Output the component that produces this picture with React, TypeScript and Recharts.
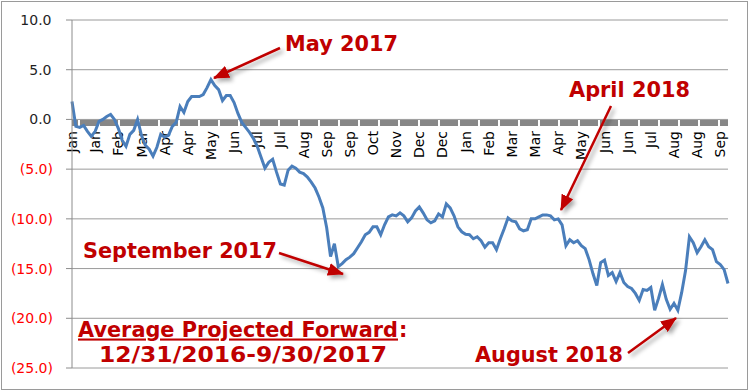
// Serie proyectada (promedio) con eje de meses cruzando en cero y anotaciones en rojo.

import { CartesianGrid, Line, LineChart, XAxis, YAxis } from "recharts";

const monthLabels = [
  "Jan", "Jan", "Feb", "Mar", "Apr", "Apr", "May", "Jun", "Jul", "Jul",
  "Aug", "Sep", "Sep", "Oct", "Nov", "Dec", "Dec", "Jan", "Feb", "Mar",
  "Mar", "Apr", "May", "Jun", "Jun", "Jul", "Aug", "Aug", "Sep",
];
const labelTicks = [
  0, 6, 12, 18, 24, 30, 36, 42, 48, 54, 60, 66, 72, 78, 84, 90, 96, 102,
  108, 114, 120, 126, 132, 138, 144, 150, 156, 162, 168,
];
const yTicks = [-25, -20, -15, -10, -5, 0, 5, 10];

const values = [
  1.8, -0.7, -0.8, -0.6, -1.2, -1.7, -1.2, -0.2, 0.0, 0.3,
  0.5, 0.0, -0.9, -2.1, -2.7, -1.5, -1.1, 0.0, -1.6, -2.6,
  -3.0, -3.7, -2.8, -1.5, -1.8, -1.6, -0.7, -0.3, 1.3, 0.7,
  1.8, 2.3, 2.3, 2.3, 2.5, 3.2, 4.0, 3.4, 3.0, 1.9,
  2.4, 2.4, 1.7, 0.6, -0.3, -0.8, -1.3, -1.9, -2.7, -3.8,
  -4.9, -4.3, -4.0, -5.3, -6.5, -6.6, -5.1, -4.7, -4.9, -5.3,
  -5.45, -5.8, -6.3, -6.9, -7.8, -8.9, -10.9, -13.8, -12.5, -14.8,
  -14.5, -14.1, -13.85, -13.5, -12.9, -12.3, -11.6, -11.35, -10.8, -10.8,
  -11.6, -10.6, -9.8, -9.6, -9.7, -9.4, -9.7, -10.3, -9.9, -9.2,
  -8.8, -9.4, -10.1, -10.4, -10.2, -9.5, -9.8, -8.5, -8.9, -9.7,
  -10.8, -11.3, -11.55, -11.6, -12.0, -11.8, -12.2, -12.85, -12.4, -12.4,
  -13.1, -12.0, -11.0, -9.9, -10.2, -10.3, -11.0, -11.2, -11.1, -10.0,
  -10.0, -9.8, -9.6, -9.6, -9.7, -10.1, -10.0, -10.6, -12.7, -12.1,
  -12.4, -12.2, -12.7, -13.0, -14.1, -15.5, -16.7, -14.4, -14.15, -15.7,
  -15.4, -16.3, -15.4, -16.4, -16.8, -17.0, -17.5, -18.2, -17.1, -17.2,
  -16.9, -19.2, -18.0, -16.6, -18.1, -19.1, -18.5, -19.2, -17.4, -15.2,
  -11.8, -12.4, -13.4, -12.8, -12.1, -12.8, -13.1, -14.3, -14.6, -15.1,
  -16.5,
];

const data = values.map((v, i) => ({ i, v }));

const font = "'DejaVu Sans', Verdana, sans-serif";
const red = "#c00000";
const gray = "#8c8c8c";

function YTick({ x, y, payload }: any) {
  const v = payload.value as number;
  const neg = v < 0;
  return (
    <text x={x} y={y} dx={neg ? 0 : -1.5} dy="0.36em" textAnchor="end"
          fontSize={14} fontFamily={font} fill={neg ? "#ff0000" : "#1f1f1f"}>
      {neg ? `(${Math.abs(v).toFixed(1)})` : v.toFixed(1)}
    </text>
  );
}

function MonthTick({ x, y, payload }: any) {
  const k = labelTicks.indexOf(payload.value);
  return (
    <text transform={`translate(${x},${y}) rotate(-90)`} textAnchor="end" dy="0.36em"
          fontSize={14} fontFamily={font} fill="#000">
      {monthLabels[k]}
    </text>
  );
}

const layer = { position: "absolute", left: 0, top: 0 } as const;

export default function App() {
  return (
    <div style={{ position: "absolute", left: 0, top: 0, width: 750, height: 391, background: "#fff" }}>
      <div style={{ ...layer, left: 1, top: 1, width: 745, height: 387, border: "1px solid #9a9a9a" }} />

      {/* eje de categorías: cruza en 0, va debajo de la serie */}
      <div style={layer}>
        <LineChart width={750} height={183} data={data} margin={{ top: 0, right: 22, bottom: 0, left: 72 }}>
          <XAxis type="number" dataKey="i" domain={[0, 170]} ticks={labelTicks} interval={0}
                 height={60} tickSize={0} tickMargin={8} tick={<MonthTick />} tickLine={false}
                 axisLine={{ stroke: "#878787", strokeWidth: 6, strokeDasharray: "18 2", strokeDashoffset: 12 }} />
          <YAxis hide domain={[-25, 10]} />
          <Line dataKey="v" stroke="none" dot={false} isAnimationActive={false} />
        </LineChart>
      </div>

      <div style={layer}>
        <LineChart width={750} height={391} data={data} margin={{ top: 20, right: 22, bottom: 23, left: 0 }}>
          <CartesianGrid vertical={false} stroke="#9a9a9a" />
          <XAxis type="number" dataKey="i" domain={[0, 170]} hide />
          <YAxis domain={[-25, 10]} ticks={yTicks} interval={0} width={72} tickSize={6} tickMargin={13}
                 axisLine={{ stroke: gray }} tickLine={{ stroke: gray }} tick={<YTick />} />
          <Line type="linear" dataKey="v" stroke="#4a7ebb" strokeWidth={3} dot={false}
                isAnimationActive={false} />
        </LineChart>
      </div>

      {/* anotaciones */}
      <svg width={750} height={391} style={{ ...layer, pointerEvents: "none" }}>
        <defs>
          <marker id="head" markerUnits="userSpaceOnUse" markerWidth={16} markerHeight={13}
                  refX={15} refY={6.5} orient="auto">
            <path d="M0,0 L16,6.5 L0,13 z" fill={red} />
          </marker>
          <filter id="sh" x="-30%" y="-30%" width="160%" height="160%">
            <feDropShadow dx={3} dy={3} stdDeviation={2} floodColor="#000" floodOpacity={0.35} />
          </filter>
        </defs>
        <g filter="url(#sh)" stroke={red} strokeWidth={2.5} markerEnd="url(#head)">
          <line x1={280} y1={48} x2={214} y2={78} />
          <line x1={611} y1={106} x2={561} y2={210} />
          <line x1={279} y1={253} x2={343} y2={274} />
          <line x1={628} y1={353} x2={676} y2={318} />
        </g>
        <g fontFamily={font} fontWeight="bold" fontSize={21} fill={red}>
          <text x={285} y={51} textLength={113} lengthAdjust="spacingAndGlyphs">May 2017</text>
          <text x={569} y={97} textLength={121} lengthAdjust="spacingAndGlyphs">April 2018</text>
          <text x={83} y={258} textLength={194} lengthAdjust="spacingAndGlyphs">September 2017</text>
          <text x={475} y={362} textLength={148} lengthAdjust="spacingAndGlyphs">August 2018</text>
          <text x={78} y={336.5} textLength={320} lengthAdjust="spacingAndGlyphs" textDecoration="underline">
            Average Projected Forward
          </text>
          <text x={399} y={336.5}>:</text>
          <text x={99} y={361.5} textLength={288} lengthAdjust="spacingAndGlyphs">12/31/2016-9/30/2017</text>
        </g>
      </svg>
    </div>
  );
}
